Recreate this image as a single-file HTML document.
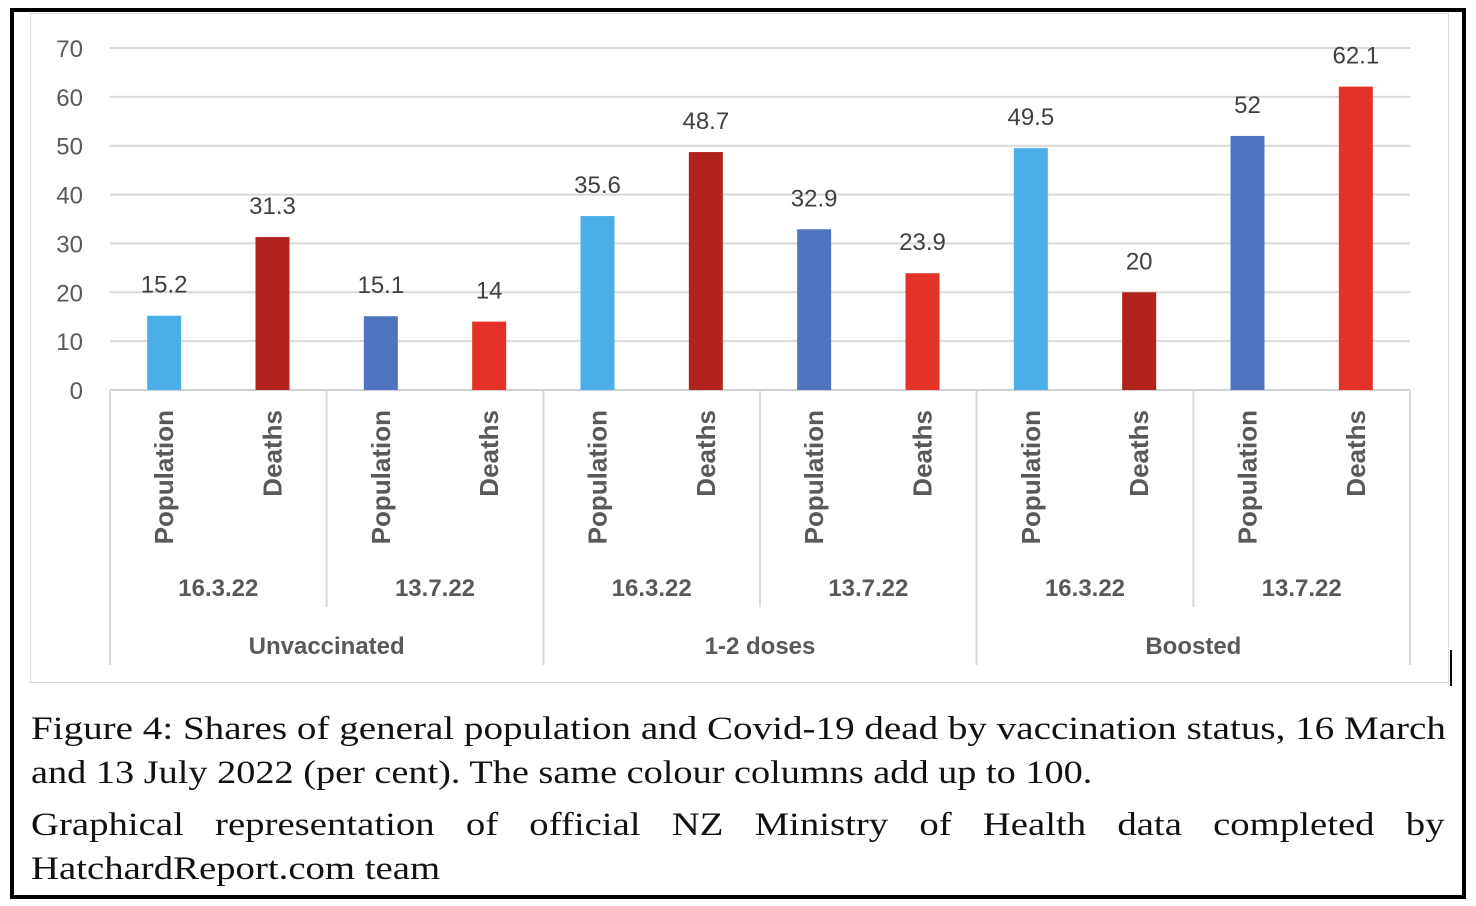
<!DOCTYPE html>
<html><head><meta charset="utf-8"><style>
body{margin:0;background:#fff;width:1476px;height:906px;overflow:hidden;position:relative}
.cap{position:absolute;left:31px;font-family:"Liberation Serif",serif;font-size:33px;color:#111;white-space:nowrap;transform:scaleX(1.175);transform-origin:0 0}
</style></head><body>
<div style="position:absolute;left:10px;top:8px;width:1448px;height:883px;border:4px solid #000"></div>
<div style="position:absolute;left:30px;top:13px;width:1417px;height:668px;border:1.5px solid #d9d9d9"></div>
<div style="position:absolute;left:1450px;top:650px;width:2px;height:36px;background:#000"></div>
<svg id="chart" width="1476" height="700" style="position:absolute;left:0;top:0" font-family="Liberation Sans, sans-serif"></svg>
<div class="cap" style="top:711px;transform:scaleX(1.184)">Figure 4: Shares of general population and Covid-19 dead by vaccination status, 16 March</div>
<div class="cap" style="top:755px;transform:scaleX(1.16)">and 13 July 2022 (per cent). The same colour columns add up to 100.</div>
<div class="cap" style="top:807px;width:1203px;text-align:justify;text-align-last:justify">Graphical representation of official NZ Ministry of Health data completed by</div>
<div class="cap" style="top:851px">HatchardReport.com team</div>
<script>
const categories=["Population","Deaths","Population","Deaths","Population","Deaths","Population","Deaths","Population","Deaths","Population","Deaths"];
const values=[15.2,31.3,15.1,14,35.6,48.7,32.9,23.9,49.5,20,52,62.1];
const labels=["15.2","31.3","15.1","14","35.6","48.7","32.9","23.9","49.5","20","52","62.1"];
const colors=["#4baee8","#b0221c","#4f74c0","#e53228","#4baee8","#b0221c","#4f74c0","#e53228","#4baee8","#b0221c","#4f74c0","#e53228"];
const dates=["16.3.22","13.7.22","16.3.22","13.7.22","16.3.22","13.7.22"];
const groups=["Unvaccinated","1-2 doses","Boosted"];
const yTicks=[0,10,20,30,40,50,60,70];
const svg=document.getElementById('chart');const NS='http://www.w3.org/2000/svg';
const x0=110,x1=1410,y0=390,yTop=48,yMax=70;
const band=(x1-x0)/categories.length;
const y=v=>y0-(v/yMax)*(y0-yTop);
const xc=i=>x0+band*(i+0.5);
function mk(t,a,txt){const e=document.createElementNS(NS,t);for(const k in a)e.setAttribute(k,a[k]);if(txt!==undefined)e.textContent=txt;svg.appendChild(e);return e;}
yTicks.forEach(t=>{
 const g=mk('line',{x1:x0,x2:x1,y1:y(t),y2:y(t),stroke:t===0?'#d0d0d0':'#d9d9d9','stroke-width':2});
 
 
 const l=mk('text',{x:83,y:y(t)+9,'text-anchor':'end','font-size':24,fill:'#595959'},String(t));
 
 
});
values.forEach((v,i)=>{
 const b=mk('rect',{x:xc(i)-17,y:y(v),width:34,height:y0-y(v),fill:colors[i]});
 
 
 const t=mk('text',{x:xc(i),y:y(v)-23,'text-anchor':'middle','font-size':24,fill:'#404040'},labels[i]);
 
 
 const c=mk('text',{x:0,y:0,'text-anchor':'end','font-size':26,'font-weight':'bold',fill:'#595959',transform:`translate(${xc(i)+9},410) rotate(-90)`},categories[i]);
 
 
});
for(let k=0;k<=categories.length;k+=2){
 const len=(k%4===0)?665:607;
 const s=mk('line',{x1:x0+band*k,x2:x0+band*k,y1:y0,y2:len,stroke:'#d9d9d9','stroke-width':2});
 
 
}
dates.forEach((d,j)=>{
 const t=mk('text',{x:x0+band*(2*j+1),y:596,'text-anchor':'middle','font-size':24,'font-weight':'bold',fill:'#595959'},d);
 
 
});
groups.forEach((g,j)=>{
 const t=mk('text',{x:x0+band*(4*j+2),y:654,'text-anchor':'middle','font-size':24,'font-weight':'bold',fill:'#595959'},g);
 
 
});
</script>
</body></html>
